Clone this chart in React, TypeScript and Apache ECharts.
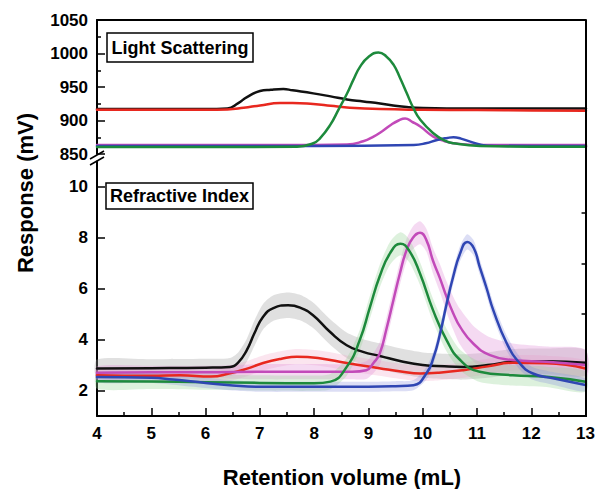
import React, { useEffect, useRef } from "react";
import * as echarts from "echarts";

// ---------- Light scattering (top panel, mV) ----------
const lsBlackX = [4, 5, 6, 6.4, 6.6, 6.76, 7.0, 7.2, 7.43, 7.6, 7.98, 8.3, 8.6, 8.9, 9.21, 9.45, 9.7, 10.0, 10.44, 11, 12, 13];
const lsBlackY = [917, 917, 917, 918, 926, 935, 944, 946, 947, 945, 940.5, 936, 931.5, 928.5, 925.5, 922.5, 920, 918.5, 918, 918, 918, 918];

const lsRedX = [4, 5, 6, 6.4, 6.7, 7.0, 7.37, 7.6, 7.98, 8.3, 8.6, 9.21, 10, 11, 12, 13];
const lsRedY = [916, 916, 916, 916.5, 919, 922.5, 926, 926, 924.5, 922, 919.5, 917, 916, 915.5, 915, 914.5];

const lsMagentaX = [4, 6, 8, 8.6, 8.9, 9.09, 9.25, 9.4, 9.55, 9.67, 9.8, 9.95, 10.19, 10.4, 10.56, 11.05, 12, 13];
const lsMagentaY = [863.5, 863.5, 863.5, 864, 869, 876, 884, 893, 900, 903, 898, 891, 876, 869, 866, 863.5, 863.5, 863.5];

const lsGreenX = [4, 6, 7.68, 7.98, 8.1, 8.29, 8.45, 8.6, 8.72, 8.84, 9.0, 9.18, 9.32, 9.46, 9.58, 9.7, 9.82, 9.95, 10.19, 10.4, 10.56, 11.05, 12, 13];
const lsGreenY = [860.5, 860.5, 861, 866, 873, 893, 917, 940, 961, 980, 995, 1001.5, 996, 983, 963, 941, 919, 901, 881, 870, 866, 862, 861, 861];

const lsBlueX = [4, 6, 8, 9.83, 10.05, 10.26, 10.45, 10.56, 10.7, 10.87, 11.18, 12, 13];
const lsBlueY = [862, 862, 862, 863.5, 866, 871, 874, 875, 873, 868.5, 862.5, 862, 862];

// ---------- Refractive index (bottom panel, mV) ----------
const riBlackX = [4, 5, 6, 6.45, 6.6, 6.76, 6.9, 7.06, 7.25, 7.52, 7.75, 7.98, 8.29, 8.6, 8.9, 9.21, 9.6, 10.0, 10.4, 10.75, 11.2, 11.66, 12.3, 13];
const riBlackY = [2.87, 2.88, 2.9, 2.93, 3.1, 3.59, 4.25, 4.9, 5.24, 5.35, 5.25, 4.96, 4.31, 3.78, 3.52, 3.36, 3.15, 3.0, 2.95, 2.93, 3.0, 3.13, 3.15, 3.09];
const riBlackErr = [0.35, 0.35, 0.35, 0.35, 0.4, 0.45, 0.5, 0.5, 0.5, 0.5, 0.5, 0.5, 0.5, 0.5, 0.5, 0.5, 0.5, 0.5, 0.5, 0.5, 0.5, 0.5, 0.5, 0.5];

const riRedX = [4, 5, 5.53, 6.1, 6.45, 6.75, 7.06, 7.4, 7.68, 8.1, 8.6, 9.2, 9.6, 9.95, 10.3, 10.75, 11.2, 11.66, 12.28, 13];
const riRedY = [2.6, 2.58, 2.6, 2.55, 2.68, 2.85, 3.08, 3.25, 3.33, 3.27, 3.08, 2.88, 2.75, 2.67, 2.7, 2.8, 2.95, 3.09, 3.07, 2.87];
const riRedErr = [0.25, 0.25, 0.25, 0.25, 0.3, 0.3, 0.3, 0.3, 0.3, 0.3, 0.3, 0.3, 0.3, 0.3, 0.3, 0.3, 0.3, 0.3, 0.3, 0.3];

const riMagentaX = [4, 5, 6, 7, 8, 8.7, 8.96, 9.1, 9.21, 9.33, 9.46, 9.58, 9.7, 9.82, 9.95, 10.07, 10.19, 10.32, 10.44, 10.56, 10.69, 10.93, 11.24, 11.66, 12.28, 13];
const riMagentaY = [2.7, 2.72, 2.72, 2.74, 2.74, 2.74, 2.8, 3.1, 3.46, 4.4, 5.55, 6.6, 7.5, 8.0, 8.2, 7.9, 7.1, 6.4, 5.68, 5.05, 4.5, 3.85, 3.39, 3.2, 3.13, 3.0];
const riMagentaErr = [0.25, 0.25, 0.25, 0.3, 0.3, 0.3, 0.35, 0.4, 0.45, 0.45, 0.45, 0.45, 0.45, 0.45, 0.45, 0.45, 0.5, 0.55, 0.6, 0.65, 0.7, 0.7, 0.7, 0.65, 0.6, 0.6];

const riGreenX = [4, 5, 6, 7, 8, 8.3, 8.6, 8.84, 9.03, 9.21, 9.4, 9.59, 9.75, 9.95, 10.19, 10.44, 10.69, 11.05, 11.66, 12.28, 13];
const riGreenY = [2.37, 2.36, 2.33, 2.3, 2.29, 2.35, 2.93, 3.98, 5.29, 6.5, 7.4, 7.77, 7.5, 6.6, 5.16, 3.98, 3.2, 2.74, 2.6, 2.54, 2.35];
const riGreenErr = [0.3, 0.3, 0.3, 0.3, 0.3, 0.3, 0.35, 0.4, 0.45, 0.45, 0.45, 0.45, 0.45, 0.45, 0.45, 0.45, 0.4, 0.4, 0.4, 0.4, 0.4];

const riBlueX = [4, 5, 5.4, 6, 6.5, 7, 8, 9, 9.5, 9.83, 10.07, 10.2, 10.32, 10.44, 10.56, 10.69, 10.82, 10.94, 11.05, 11.18, 11.3, 11.55, 11.79, 12.03, 12.4, 13];
const riBlueY = [2.53, 2.5, 2.43, 2.3, 2.2, 2.15, 2.15, 2.15, 2.17, 2.21, 2.68, 3.3, 4.24, 5.4, 6.46, 7.39, 7.84, 7.6, 6.86, 6.0, 5.16, 3.85, 3.07, 2.67, 2.48, 2.22];
const riBlueErr = [0.2, 0.2, 0.2, 0.2, 0.2, 0.2, 0.2, 0.2, 0.2, 0.2, 0.25, 0.25, 0.3, 0.3, 0.3, 0.3, 0.3, 0.3, 0.3, 0.3, 0.3, 0.3, 0.25, 0.25, 0.25, 0.25];

const xTickValues = [4, 5, 6, 7, 8, 9, 10, 11, 12, 13];
const riLabelValues = [2, 4, 6, 8, 10];
const riMinorValues = [3, 5, 7, 9];

const COLORS = {
  black: "#111111",
  red: "#e8281f",
  magenta: "#c24ab9",
  green: "#1d8a3c",
  blue: "#2f46b3",
};
const BANDS = {
  black: "rgba(160,160,160,0.33)",
  red: "rgba(240,150,190,0.25)",
  magenta: "rgba(225,140,215,0.32)",
  green: "rgba(150,210,150,0.32)",
  blue: "rgba(130,135,220,0.28)",
};

const FONT = "'Liberation Sans', Arial, Helvetica, sans-serif";

function pairs(xs: number[], ys: number[]) {
  return xs.map((x, i) => [x, ys[i]]);
}

function lineSeries(name: string, xs: number[], ys: number[], color: string, axis: number, width: number) {
  return {
    name,
    type: "line",
    xAxisIndex: axis,
    yAxisIndex: axis,
    data: pairs(xs, ys),
    showSymbol: false,
    smooth: 0.5,
    lineStyle: { color, width, join: "round", cap: "round" },
    itemStyle: { color },
    z: 5,
  };
}

function bandSeries(name: string, xs: number[], ys: number[], errs: number[], color: string) {
  return {
    name: name + " error",
    type: "custom",
    xAxisIndex: 1,
    yAxisIndex: 1,
    silent: true,
    z: 1,
    data: pairs(xs, ys),
    renderItem: (params: any, api: any) => {
      if (params.dataIndex !== 0) return null;
      const upper = xs.map((x, i) => api.coord([x, ys[i] + errs[i]]));
      const lower = xs.map((x, i) => api.coord([x, ys[i] - errs[i]])).reverse();
      return {
        type: "polygon",
        shape: { points: upper.concat(lower), smooth: 0.25 },
        style: { fill: color, stroke: null },
      };
    },
  };
}

const tickLabelStyle = {
  color: "#000",
  fontSize: 17,
  fontWeight: "bold",
  fontFamily: FONT,
  formatter: (v: number) => String(v),
};

export default function App() {
  const ref = useRef<HTMLDivElement>(null);

  useEffect(() => {
    if (!ref.current) return;
    const chart = echarts.init(ref.current, undefined, { renderer: "svg" });
    const option: any = {
      animation: false,
      backgroundColor: "#ffffff",
      grid: [
        { left: 97, right: 12, top: 20, height: 134 },
        { left: 97, right: 12, top: 161.5, bottom: 73 },
      ],
      xAxis: [
        {
          type: "value",
          gridIndex: 0,
          min: 4,
          max: 13,
          position: "top",
          axisLine: { show: true, onZero: false, lineStyle: { color: "#000", width: 2 } },
          axisTick: { show: false },
          axisLabel: { show: false },
          splitLine: { show: false },
        },
        {
          type: "value",
          gridIndex: 1,
          min: 4,
          max: 13,
          interval: 1,
          axisLine: { show: true, onZero: false, lineStyle: { color: "#000", width: 2 } },
          axisTick: { show: true, inside: true, length: 8, customValues: xTickValues, lineStyle: { color: "#000", width: 1.5 } },
          minorTick: { show: true, splitNumber: 2, length: 4, lineStyle: { color: "#000", width: 1.5 } },
          axisLabel: { ...tickLabelStyle, margin: 9, customValues: xTickValues },
          splitLine: { show: false },
        },
      ],
      yAxis: [
        {
          type: "value",
          gridIndex: 0,
          min: 850,
          max: 1050,
          interval: 50,
          axisLine: { show: true, onZero: false, lineStyle: { color: "#000", width: 2 } },
          axisTick: { show: true, inside: true, length: 8, lineStyle: { color: "#000", width: 1.5 } },
          minorTick: { show: true, splitNumber: 2, length: 4, lineStyle: { color: "#000", width: 1.5 } },
          axisLabel: { ...tickLabelStyle, margin: 9 },
          splitLine: { show: false },
        },
        {
          type: "value",
          gridIndex: 1,
          min: 1,
          max: 11,
          axisLine: { show: true, onZero: false, lineStyle: { color: "#000", width: 2 } },
          axisTick: { show: true, inside: true, length: 8, customValues: riLabelValues, lineStyle: { color: "#000", width: 1.5 } },
          axisLabel: { ...tickLabelStyle, margin: 9, customValues: riLabelValues },
          splitLine: { show: false },
        },
        {
          type: "value",
          gridIndex: 1,
          min: 1,
          max: 11,
          axisLine: { show: false },
          axisTick: { show: true, inside: true, length: 4, customValues: riMinorValues, lineStyle: { color: "#000", width: 1.5 } },
          axisLabel: { show: false },
          splitLine: { show: false },
        },
      ],
      series: [
        lineSeries("LS black", lsBlackX, lsBlackY, COLORS.black, 0, 2.5),
        lineSeries("LS red", lsRedX, lsRedY, COLORS.red, 0, 2.5),
        lineSeries("LS magenta", lsMagentaX, lsMagentaY, COLORS.magenta, 0, 2.5),
        lineSeries("LS blue", lsBlueX, lsBlueY, COLORS.blue, 0, 2.5),
        lineSeries("LS green", lsGreenX, lsGreenY, COLORS.green, 0, 2.5),
        bandSeries("RI black", riBlackX, riBlackY, riBlackErr, BANDS.black),
        bandSeries("RI red", riRedX, riRedY, riRedErr, BANDS.red),
        bandSeries("RI magenta", riMagentaX, riMagentaY, riMagentaErr, BANDS.magenta),
        bandSeries("RI green", riGreenX, riGreenY, riGreenErr, BANDS.green),
        bandSeries("RI blue", riBlueX, riBlueY, riBlueErr, BANDS.blue),
        lineSeries("RI black", riBlackX, riBlackY, COLORS.black, 1, 2.5),
        lineSeries("RI red", riRedX, riRedY, COLORS.red, 1, 2.5),
        lineSeries("RI magenta", riMagentaX, riMagentaY, COLORS.magenta, 1, 2.5),
        lineSeries("RI green", riGreenX, riGreenY, COLORS.green, 1, 2.5),
        lineSeries("RI blue", riBlueX, riBlueY, COLORS.blue, 1, 2.5),
      ],
      graphic: [
        { type: "line", shape: { x1: 586, y1: 20, x2: 586, y2: 417 }, style: { stroke: "#000", lineWidth: 2 }, z: 10 },
        { type: "line", shape: { x1: 90, y1: 159, x2: 104, y2: 151 }, style: { stroke: "#000", lineWidth: 1.5 }, z: 10 },
        { type: "line", shape: { x1: 90, y1: 165, x2: 104, y2: 157 }, style: { stroke: "#000", lineWidth: 1.5 }, z: 10 },
        {
          type: "group",
          z: 10,
          children: [
            { type: "rect", shape: { x: 107, y: 33, width: 146, height: 29 }, style: { fill: "#fff", stroke: "#000", lineWidth: 1.5 } },
            {
              type: "text",
              x: 180,
              y: 47.5,
              style: { text: "Light Scattering", fill: "#000", font: `bold 18px ${FONT}`, align: "center", verticalAlign: "middle" },
            },
            { type: "rect", shape: { x: 106, y: 183, width: 147, height: 26 }, style: { fill: "#fff", stroke: "#000", lineWidth: 1.5 } },
            {
              type: "text",
              x: 179.5,
              y: 196,
              style: { text: "Refractive Index", fill: "#000", font: `bold 18px ${FONT}`, align: "center", verticalAlign: "middle" },
            },
          ],
        },
        {
          type: "text",
          x: 25,
          y: 193,
          rotation: Math.PI / 2,
          style: { text: "Response (mV)", fill: "#000", font: `bold 22px ${FONT}`, align: "center", verticalAlign: "middle" },
          z: 10,
        },
        {
          type: "text",
          x: 342,
          y: 477,
          style: { text: "Retention volume (mL)", fill: "#000", font: `bold 22px ${FONT}`, align: "center", verticalAlign: "middle" },
          z: 10,
        },
      ],
    };
    chart.setOption(option);
    return () => chart.dispose();
  }, []);

  return (
    <div
      ref={ref}
      style={{ position: "fixed", left: 0, top: 0, width: 598, height: 489, background: "#fff" }}
    />
  );
}
